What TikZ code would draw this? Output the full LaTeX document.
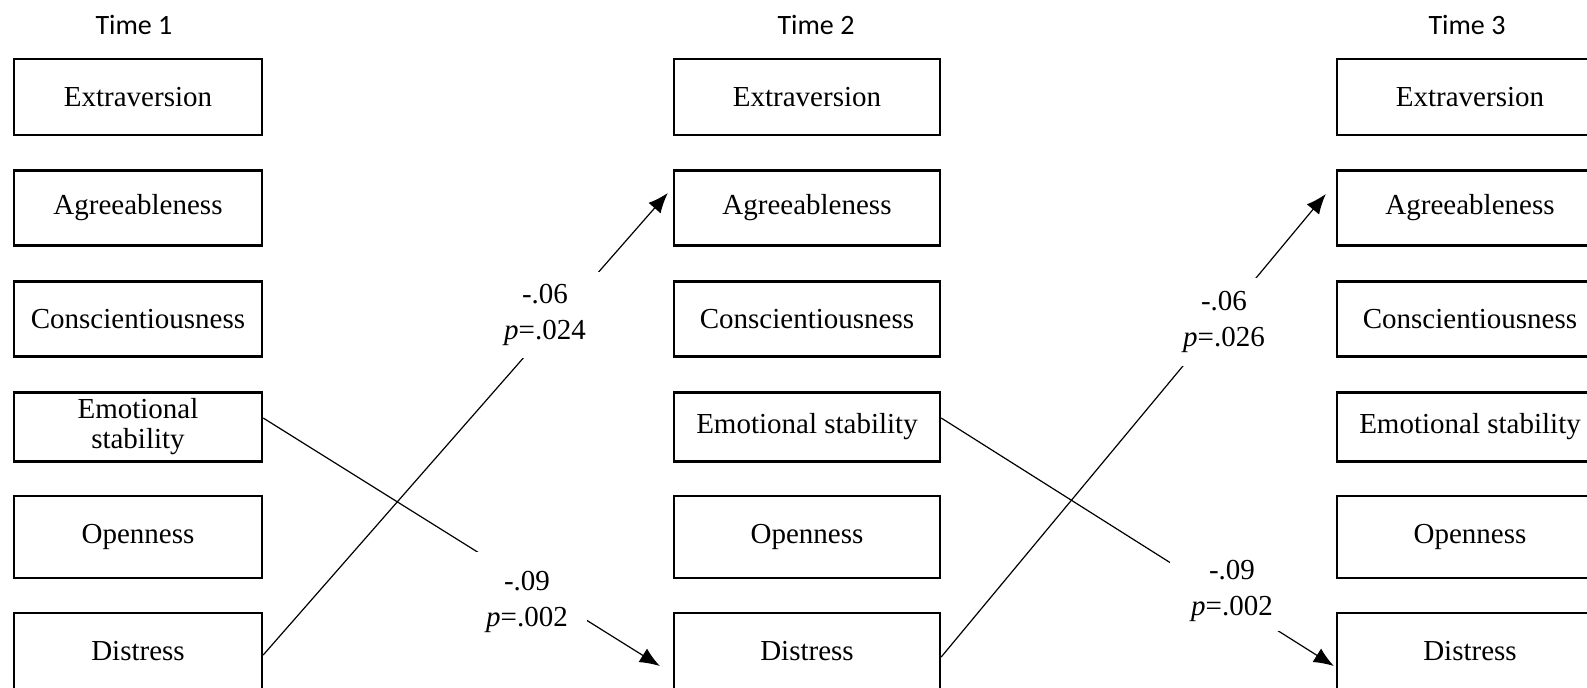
\documentclass[tikz,border=0pt]{standalone}
\usepackage{fontspec}
\setmainfont{Liberation Serif}
\newfontfamily\calibrifont{Carlito}
\usetikzlibrary{arrows.meta,calc}
\tikzset{
  trait/.style={draw, line width=1.2pt, minimum height=38pt, inner sep=0pt, align=center,
    font=\fontsize{14.5}{15}\selectfont},
  traitA/.style={trait, minimum width=124pt},
  traitB/.style={trait, minimum width=133pt},
  timelab/.style={font=\calibrifont\fontsize{14}{16}\selectfont},
  coef/.style={fill=white, inner sep=0pt, align=center, font=\fontsize{14.5}{18}\selectfont},
  effect/.style={line width=0.6pt, -{Latex[length=10pt,width=8pt]}}
}
\begin{document}
\begin{tikzpicture}[x=0.5pt,y=-0.5pt]
\clip (0,0) rectangle (1587,687);
% time headings
\node[timelab] (time1) at (134,25) {Time 1};
\node[timelab] (time2) at (816,25) {Time 2};
\node[timelab] (time3) at (1467,25) {Time 3};
% Time 1
\node[traitA] (t1ext) at (138,97) {Extraversion};
\node[traitA, minimum height=37.5pt] (t1agr) at (138,208) {Agreeableness};
\node[traitA, minimum height=37.5pt] (t1con) at (138,319) {Conscientiousness};
\node[traitA, minimum height=34.5pt] (t1emo) at (138,427) {Emotional\\stability};
\node[traitA, minimum height=41pt] (t1ope) at (138,537) {Openness};
\node[traitA] (t1dis) at (138,651) {Distress};
% Time 2
\node[traitB] (t2ext) at (807,97) {Extraversion};
\node[traitB, minimum height=37.5pt] (t2agr) at (807,208) {Agreeableness};
\node[traitB, minimum height=37.5pt] (t2con) at (807,319) {Conscientiousness};
\node[traitB, minimum height=34.5pt] (t2emo) at (807,427) {Emotional stability};
\node[traitB, minimum height=41pt] (t2ope) at (807,537) {Openness};
\node[traitB] (t2dis) at (807,651) {Distress};
% Time 3
\node[traitB] (t3ext) at (1470,97) {Extraversion};
\node[traitB, minimum height=37.5pt] (t3agr) at (1470,208) {Agreeableness};
\node[traitB, minimum height=37.5pt] (t3con) at (1470,319) {Conscientiousness};
\node[traitB, minimum height=34.5pt] (t3emo) at (1470,427) {Emotional stability};
\node[traitB, minimum height=41pt] (t3ope) at (1470,537) {Openness};
\node[traitB] (t3dis) at (1470,651) {Distress};
% cross-lagged paths
\draw[effect] ([yshift=-2pt]t1dis.east) -- ([xshift=-2.5pt,yshift=7.5pt]t2agr.west);
\draw[effect] ([yshift=4.5pt]t1emo.east) -- ([xshift=-6.5pt,yshift=-7.5pt]t2dis.west);
\draw[effect] ([yshift=-3pt]t2dis.east) -- ([xshift=-5pt,yshift=7pt]t3agr.west);
\draw[effect] ([yshift=4.5pt]t2emo.east) -- ([xshift=-1pt,yshift=-7.5pt]t3dis.west);
% coefficients
\node[coef, minimum width=55pt, minimum height=43pt] (b1) at (545,315) {-.06\\\textit{p}=.024};
\node[coef, minimum width=60pt, minimum height=50pt] (b2) at (527,602) {-.09\\\textit{p}=.002};
\node[coef, minimum width=46pt, minimum height=44pt] (b3) at (1224,322) {-.06\\\textit{p}=.026};
\node[coef, minimum width=62pt, minimum height=40pt] (b4) at (1232,591) {-.09\\\textit{p}=.002};
\end{tikzpicture}
\end{document}
